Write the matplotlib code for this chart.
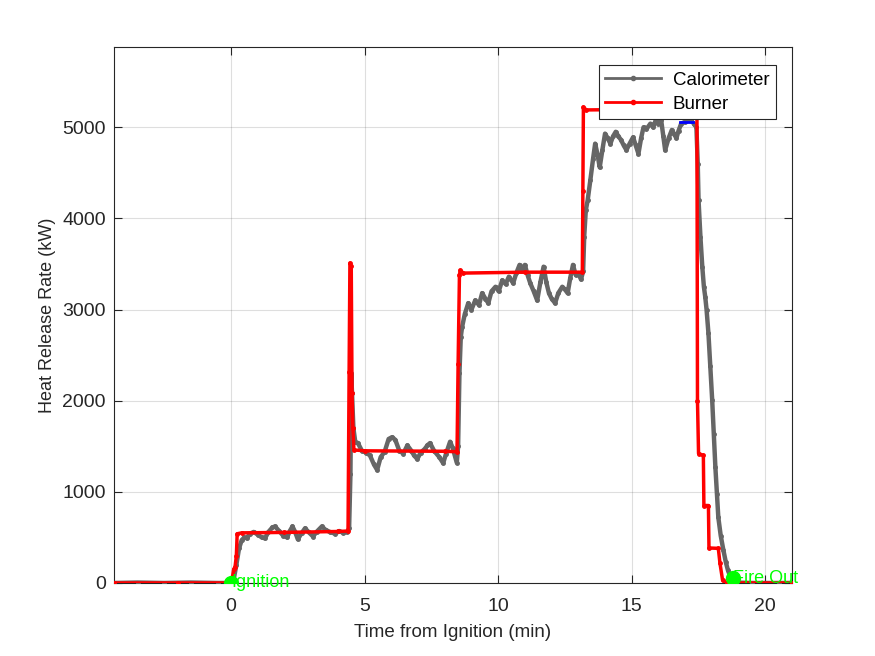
import matplotlib
matplotlib.use("Agg")
import matplotlib.pyplot as plt
from matplotlib.lines import Line2D

plt.rcParams['font.family'] = ['Liberation Sans', 'DejaVu Sans']

# Calorimeter heat release rate (min, kW)
cal_t = [-4.38, -3.5, -2.5, -1.5, -0.5, 0.05,
         0.1, 0.2, 0.3, 0.4, 0.5, 0.6, 0.7, 0.85, 1.0, 1.15, 1.27, 1.4, 1.55, 1.65,
         1.8, 1.95, 2.1, 2.2, 2.3, 2.4, 2.5, 2.65, 2.77, 2.9, 3.07, 3.2, 3.4, 3.55,
         3.7, 3.9, 4.05, 4.2, 4.35, 4.42,
         4.47, 4.5, 4.53, 4.58, 4.65, 4.75, 4.9, 5.05, 5.2, 5.35, 5.47, 5.6, 5.75,
         5.9, 6.03, 6.15, 6.3, 6.45, 6.6, 6.75, 6.85, 6.97, 7.1, 7.25, 7.35, 7.45,
         7.6, 7.8, 7.94, 8.05, 8.2, 8.3, 8.45,
         8.5, 8.55, 8.6, 8.65, 8.75, 8.88, 9.0, 9.14, 9.28, 9.4, 9.52, 9.63, 9.75,
         9.9, 10.02, 10.15, 10.28, 10.4, 10.56, 10.68, 10.8, 10.9, 11.0, 11.1, 11.2,
         11.33, 11.46, 11.58, 11.7, 11.8, 11.9, 12.0, 12.13, 12.25, 12.4, 12.5,
         12.6, 12.7, 12.8, 12.9, 13.0, 13.1, 13.18,
         13.22, 13.28, 13.35, 13.45, 13.55, 13.63, 13.72, 13.8, 13.9, 14.0, 14.1,
         14.2, 14.3, 14.4, 14.5, 14.6, 14.7, 14.8, 14.92, 15.05, 15.15, 15.25,
         15.35, 15.44, 15.55, 15.7, 15.8, 15.9, 16.0, 16.1, 16.18, 16.25, 16.38,
         16.5, 16.58, 16.67, 16.75, 16.85, 17.0, 17.2, 17.32, 17.42,
         17.47, 17.5, 17.57, 17.64, 17.7, 17.75, 17.8, 17.87, 17.94, 18.01, 18.07,
         18.13, 18.19, 18.24, 18.33, 18.43, 18.52, 18.6, 18.7, 18.8, 18.9, 19.5,
         20.5, 21.0]
cal_v = [0, 5, 0, 5, 0, 0,
         40, 200, 380, 470, 500, 490, 540, 560, 530, 500, 490, 560, 610, 620,
         570, 520, 500, 570, 620, 560, 480, 550, 600, 560, 510, 560, 620, 580,
         560, 540, 570, 550, 560, 600,
         1200, 2300, 2080, 1700, 1550, 1535, 1450, 1430, 1400, 1300, 1240, 1380, 1440,
         1580, 1600, 1570, 1450, 1420, 1510, 1450, 1400, 1360, 1430, 1470, 1510, 1535,
         1450, 1380, 1315, 1420, 1550, 1480, 1320,
         1500, 2300, 2700, 2810, 2950, 3070, 3000, 3100, 3050, 3180, 3120, 3070, 3200,
         3250, 3200, 3320, 3280, 3360, 3290, 3400, 3490, 3420, 3490, 3380, 3290,
         3200, 3100, 3300, 3470, 3300, 3180, 3120, 3070, 3180, 3250, 3220,
         3180, 3350, 3490, 3380, 3400, 3330, 3420,
         3800, 4090, 4200, 4420, 4650, 4820, 4700, 4560, 4750, 4930, 4880,
         4820, 4900, 4950, 4900, 4860, 4800, 4750, 4820, 4890, 4800, 4710,
         4880, 5000, 4980, 5040, 5000, 5080, 5040, 5080, 4900, 4750, 4880,
         4970, 4930, 4880, 4960, 5040, 5060, 5080, 5040, 5000,
         4600, 4200, 3800, 3470, 3250, 3140, 3000, 2740, 2380, 2010, 1640,
         1270, 980, 720, 520, 360, 230, 140, 60, 20, 5, 0,
         0, 0]

# Burner heat release rate (min, kW)
bur_t = [-4.38, -2.0, 0.0, 0.05, 0.1, 0.15, 0.2, 0.23, 0.4, 2.0, 4.0, 4.38,
         4.42, 4.45, 4.5, 4.53, 4.56, 4.6, 5.0, 8.0, 8.46, 8.5, 8.55, 8.58, 8.7,
         11.0, 13.15, 13.17, 13.19, 13.3, 15.0, 17.44, 17.46, 17.5, 17.68, 17.7,
         17.87, 17.89, 18.24, 18.3, 18.4, 18.55, 21.0]
bur_v = [0, 0, 0, 60, 150, 175, 300, 540, 550, 555, 565, 570,
         2310, 3510, 3480, 2080, 1700, 1460, 1450, 1445, 1440, 2400, 3380, 3430, 3400,
         3410, 3410, 4300, 5220, 5190, 5195, 5190, 2000, 1420, 1400, 850,
         850, 384, 380, 220, 30, 0, 0]

# short blue segment near the top of the calorimeter curve
blue_t = [16.8, 17.3]
blue_v = [5060, 5060]

# event markers
event_t = [0.0, 18.8]
event_v = [0, 50]
event_lbl = ['Ignition', 'Fire Out']

fig = plt.figure(figsize=(8.75, 6.56), dpi=100)
ax = fig.add_axes([0.1303, 0.1113, 0.7749, 0.817])

gray = '#666666'
ax.plot(cal_t, cal_v, color=gray, lw=3.2, marker='.', ms=5, zorder=3)
ax.plot(blue_t, blue_v, color='blue', lw=2, zorder=3.5)
ax.plot(bur_t, bur_v, color='red', lw=2.5, marker='.', ms=5, zorder=4)

for t, v, s in zip(event_t, event_v, event_lbl):
    ax.plot(t, v, 'o', color='#00ff00', ms=10, zorder=6)
    ax.text(t, v, s, color='#00ff00', fontsize=13, ha='left', va='center',
            zorder=7)

ax.set_xlim(-4.38, 21.0)
ax.set_ylim(0, 5880)
ax.set_xticks([0, 5, 10, 15, 20])
ax.set_yticks([0, 1000, 2000, 3000, 4000, 5000])
ax.grid(True, color='#262626', alpha=0.15, lw=0.8)
ax.set_axisbelow(True)
ax.tick_params(direction='in', length=6, labelsize=14, colors='#262626',
               top=True, right=True)
ax.tick_params(axis='x', pad=11)
ax.tick_params(axis='y', pad=6)
for sp in ax.spines.values():
    sp.set_color('#262626')
    sp.set_linewidth(0.8)

ax.set_xlabel('Time from Ignition (min)', fontsize=13.5, color='#262626',
              labelpad=6)
ax.set_ylabel('Heat Release Rate (kW)', fontsize=13, color='#262626',
              labelpad=4)

handles = [Line2D([], [], color=gray, lw=2, marker='.', ms=6),
           Line2D([], [], color='red', lw=2, marker='.', ms=6)]
leg = ax.legend(handles, ['Calorimeter', 'Burner'], loc='upper right',
                bbox_to_anchor=(0.976, 0.966), fontsize=13.5, fancybox=False,
                framealpha=1, edgecolor='#262626', borderpad=0.35,
                handlelength=3.0, handletextpad=0.6, labelspacing=0.35,
                borderaxespad=0)
leg.get_frame().set_linewidth(0.8)

fig.savefig('out.png', dpi=100)
